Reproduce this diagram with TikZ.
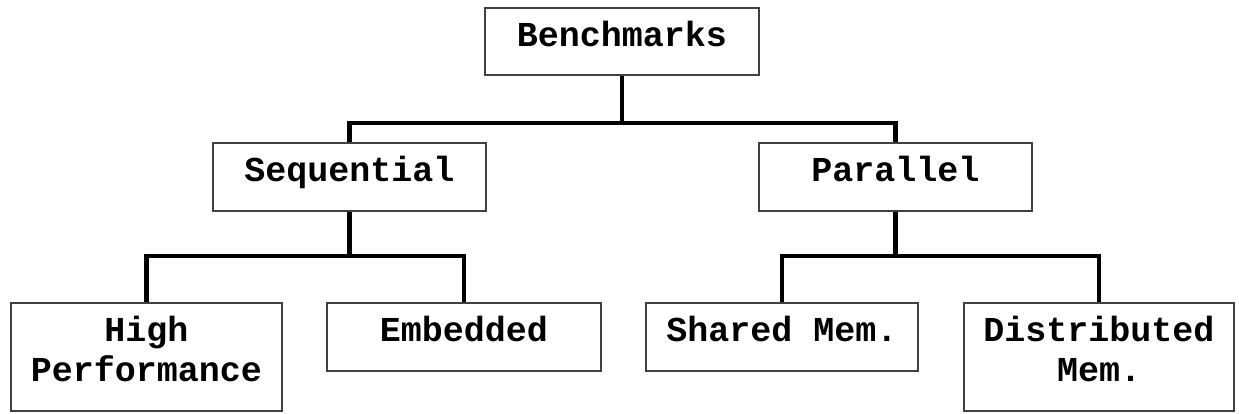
\documentclass[tikz,border=0pt]{standalone}
\usepackage{fontspec}
\newfontfamily\courfont{Liberation Mono}
\tikzset{
  box/.style={draw=black!75, line width=2.4pt, fill=white, inner sep=0pt,
    font=\courfont\bfseries\fontsize{35}{40}\selectfont, align=center},
  onebox/.style={box, text height=21pt, text depth=12pt},
  tallbox/.style={box, text depth=16pt},
  conn/.style={draw=black, line width=4.5pt}
}
\begin{document}
\begin{tikzpicture}[x=1pt,y=-1pt]
\useasboundingbox (0,0) rectangle (1239,413);
\node[onebox, minimum width=274pt, minimum height=67pt] (bench) at (622,41.5) {Benchmarks};
\node[onebox, minimum width=273pt, minimum height=68pt] (seq) at (349.5,177) {Sequential};
\node[onebox, minimum width=273pt, minimum height=68pt] (par) at (895.5,177) {Parallel};
\node[tallbox, minimum width=271pt, minimum height=108pt] (hp) at (146.5,357) {High\\Performance};
\node[onebox, minimum width=274pt, minimum height=68pt] (emb) at (464,337) {Embedded};
\node[onebox, minimum width=272pt, minimum height=68pt] (sm) at (782,337) {Shared Mem.};
\node[tallbox, minimum width=270pt, minimum height=108pt] (dm) at (1099,357) {Distributed\\Mem.};
\coordinate (bar1) at (0,123);
\coordinate (bar2) at (0,256);
\draw[conn] (bench.south) -- (bench.south |- bar1);
\draw[conn] (seq.north) |- (par.north |- bar1) -- (par.north);
\draw[conn] (seq.south) -- (seq.south |- bar2);
\draw[conn] (hp.north) |- (emb.north |- bar2) -- (emb.north);
\draw[conn] (par.south) -- (par.south |- bar2);
\draw[conn] (sm.north) |- (dm.north |- bar2) -- (dm.north);
\end{tikzpicture}
\end{document}
